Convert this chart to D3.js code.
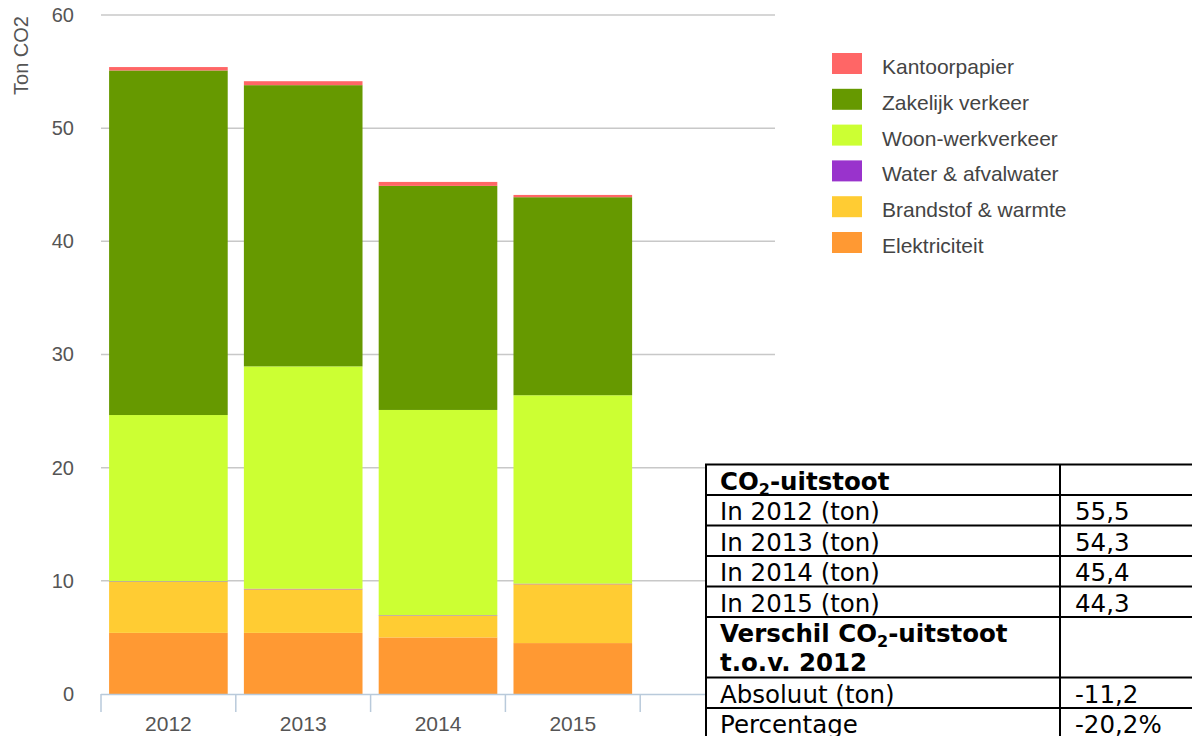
<!DOCTYPE html>
<html>
<head>
<meta charset="utf-8">
<script src="https://cdn.jsdelivr.net/npm/d3@7"></script>
<style>
  body { margin: 0; background: #fff; }
</style>
</head>
<body>
<div id="chart"></div>
<script>
var years = ["2012", "2013", "2014", "2015"]
var slots = years.concat([""])

var elektriciteit  = [5.4, 5.4, 5.0, 4.5]
var brandstof      = [4.5, 3.85, 1.9, 5.2]
var water          = [0.05, 0.05, 0.05, 0.05]
var woonWerk       = [14.7, 19.65, 18.15, 16.65]
var zakelijk       = [30.45, 24.85, 19.8, 17.5]
var kantoorpapier  = [0.3, 0.35, 0.35, 0.2]

var seriesNames = ["Elektriciteit", "Brandstof & warmte", "Water & afvalwater", "Woon-werkverkeer", "Zakelijk verkeer", "Kantoorpapier"]
var seriesValues = [elektriciteit, brandstof, water, woonWerk, zakelijk, kantoorpapier]
var seriesColors = ["#ff9933", "#ffcc33", "#9933cc", "#ccff33", "#669900", "#ff6666"]

var yTicks = [0, 10, 20, 30, 40, 50, 60]

var tableLabels = ["CO2-uitstoot", "In 2012 (ton)", "In 2013 (ton)", "In 2014 (ton)", "In 2015 (ton)", "Verschil CO2-uitstoot|t.o.v. 2012", "Absoluut (ton)", "Percentage"]
var tableValues = ["", "55,5", "54,3", "45,4", "44,3", "", "-11,2", "-20,2%"]
var tableBold   = [true, false, false, false, false, true, false, false]

;(function () {
  var width = 1192,
    height = 736

  var svg = d3.select("#chart")
    .append("svg")
    .attr("width", width)
    .attr("height", height)
    .style("font-family", "'Liberation Sans', Arial, sans-serif")

  var x = d3.scaleBand()
    .domain(slots)
    .range([101, 775])
    .paddingInner(0.12)
    .paddingOuter(0.06)

  var y = d3.scaleLinear()
    .domain([0, 60])
    .range([694, 15])

  // gridlines
  svg.append("g")
    .selectAll("line")
    .data(yTicks.filter(function (d) { return d > 0 }))
    .enter().append("line")
    .attr("x1", 101)
    .attr("x2", 775)
    .attr("y1", function (d) { return y(d) })
    .attr("y2", function (d) { return y(d) })
    .attr("stroke", "#c8c8c8")
    .attr("stroke-width", 1.5)

  // y tick labels
  var yAxis = svg.append("g")
    .attr("transform", "translate(74,0)")
    .call(d3.axisLeft(y).tickValues(yTicks).tickSize(0).tickPadding(0))
  yAxis.select(".domain").remove()
  yAxis.selectAll("text")
    .attr("fill", "#555")
    .style("font-size", "20px")
    .style("font-family", "'Liberation Sans', Arial, sans-serif")

  svg.append("text")
    .attr("transform", "translate(28,16) rotate(-90)")
    .attr("text-anchor", "end")
    .attr("fill", "#555")
    .style("font-size", "20px")
    .text("Ton CO2")

  // stacked bars
  var rows = years.map(function (yr, i) {
    var r = { year: yr }
    seriesNames.forEach(function (name, k) { r[name] = seriesValues[k][i] })
    return r
  })
  var stacked = d3.stack().keys(seriesNames)(rows)

  svg.append("g")
    .selectAll("g")
    .data(stacked)
    .enter().append("g")
    .attr("fill", function (d, k) { return seriesColors[k] })
    .selectAll("rect")
    .data(function (d) { return d })
    .enter().append("rect")
    .attr("x", function (d) { return x(d.data.year) })
    .attr("width", x.bandwidth())
    .attr("y", function (d) { return y(d[1]) })
    .attr("height", function (d) { return y(d[0]) - y(d[1]) })

  // x axis
  var xAxis = svg.append("g")
    .attr("transform", "translate(0,694)")
    .call(d3.axisBottom(x).tickSize(0).tickPadding(22))
  xAxis.select(".domain").remove()
  xAxis.selectAll("text")
    .attr("fill", "#555")
    .style("font-size", "21px")
    .style("font-family", "'Liberation Sans', Arial, sans-serif")

  var step = x.step()
  svg.append("line")
    .attr("x1", 101).attr("x2", 775)
    .attr("y1", 694.5).attr("y2", 694.5)
    .attr("stroke", "#b9cadb")
    .attr("stroke-width", 1.5)
  svg.append("g")
    .selectAll("line")
    .data(slots)
    .enter().append("line")
    .attr("x1", function (d) { return x(d) - step * x.paddingInner() / 2 })
    .attr("x2", function (d) { return x(d) - step * x.paddingInner() / 2 })
    .attr("y1", 694)
    .attr("y2", 712)
    .attr("stroke", "#b9cadb")
    .attr("stroke-width", 1.5)

  // legend
  var legend = svg.append("g")
    .selectAll("g")
    .data(seriesNames.slice().reverse())
    .enter().append("g")
    .attr("transform", function (d, i) { return "translate(832," + (53 + i * 35.8) + ")" })
  legend.append("rect")
    .attr("width", 30)
    .attr("height", 21)
    .attr("fill", function (d) { return seriesColors[seriesNames.indexOf(d)] })
  legend.append("text")
    .attr("x", 50)
    .attr("y", 21)
    .attr("fill", "#444")
    .style("font-size", "21px")
    .text(function (d) { return d })

  // table
  var rowHeights = tableLabels.map(function (d) { return d.indexOf("|") >= 0 ? 60.5 : 30.5 })
  var rowTops = []
  var acc = 464.5
  rowHeights.forEach(function (h) { rowTops.push(acc); acc += h })

  var table = svg.append("g")
    .style("font-family", "'DejaVu Sans', Verdana, sans-serif")
    .style("font-size", "24.5px")
    .attr("fill", "#000")

  table.append("rect")
    .attr("x", 706).attr("y", 464.5)
    .attr("width", 500).attr("height", acc - 464.5)
    .attr("fill", "#fff")
    .attr("stroke", "#000")
    .attr("stroke-width", 2)

  table.selectAll(".row-line")
    .data(rowTops.slice(1).concat([acc]))
    .enter().append("line")
    .attr("class", "row-line")
    .attr("x1", 706).attr("x2", 1200)
    .attr("y1", function (d) { return d }).attr("y2", function (d) { return d })
    .attr("stroke", "#000")
    .attr("stroke-width", 2)

  table.append("line")
    .attr("x1", 1060).attr("x2", 1060)
    .attr("y1", 464.5).attr("y2", acc)
    .attr("stroke", "#000")
    .attr("stroke-width", 2)

  function addLabel(sel, str) {
    // render "CO2" with a subscript 2
    var parts = str.split("CO2")
    parts.forEach(function (p, i) {
      if (i > 0) {
        sel.append("tspan").attr("dy", 0).text("CO")
        sel.append("tspan").attr("dy", 5).style("font-size", "16px").text("2")
        sel.append("tspan").attr("dy", -5).text(p)
      } else {
        sel.append("tspan").text(p)
      }
    })
  }

  tableLabels.forEach(function (lab, i) {
    var lines = lab.split("|")
    lines.forEach(function (line, j) {
      var t = table.append("text")
        .attr("x", 720)
        .attr("y", rowTops[i] + 25 + j * 28.5)
        .style("font-weight", tableBold[i] ? "bold" : "normal")
      addLabel(t, line)
    })
    table.append("text")
      .attr("x", 1075)
      .attr("y", rowTops[i] + 25)
      .text(tableValues[i])
  })
})()
</script>
</body>
</html>
